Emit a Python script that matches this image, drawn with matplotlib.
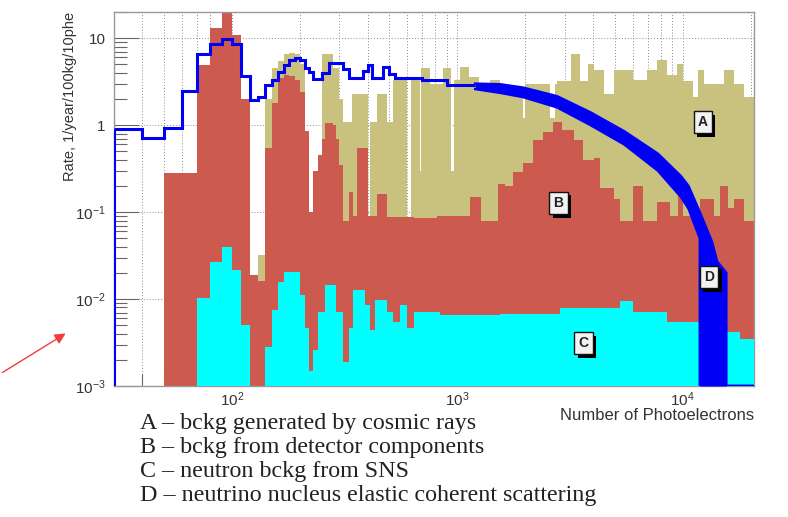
import numpy as np
import matplotlib
matplotlib.use('Agg')
import matplotlib.pyplot as plt
import matplotlib.patheffects as pe
from matplotlib.ticker import LogLocator, NullFormatter

plt.rcParams['font.family'] = ['Liberation Sans', 'DejaVu Sans']

# ---- data (rate per 10 phe bin) ----
# A - cosmic-ray background (khaki)
a_edges = [130, 140, 150, 160, 170, 180, 190, 200, 210, 220, 250, 280, 300, 310, 340,
           400, 410, 440, 490, 520, 600, 620, 680, 690, 760, 860, 940, 970, 1030, 1130,
           1250, 1400, 1550, 1720, 1960, 2000, 2590, 2700, 2780, 3180, 3500, 3790, 4020,
           4460, 4930, 6020, 6940, 7690, 8500, 9460, 10000, 11100, 11640, 12360, 15200,
           16800, 18600, 20700]
a_vals = [0.032, 2.0, 4.5, 5.5, 6.5, 6.8, 6.5, 5.0, 0.8, 0.05, 6.6, 4.6, 2.0, 1.1,
          2.3, 0.02, 1.1, 2.3, 1.1, 3.3, 0.02, 3.3, 0.3, 4.5, 3.0, 4.5, 0.3, 3.3, 4.7,
          3.6, 2.9, 3.3, 2.8, 2.6, 1.2, 3.0, 1.2, 3.0, 3.2, 6.5, 3.2, 5.1, 4.3,
          2.3, 4.3, 3.3, 4.3, 5.6, 3.8, 5.1, 3.2, 2.1, 4.3, 3.0,
          4.3, 3.0, 2.1]

# B - background from detector components (red)
b_edges = [30, 50, 70, 80, 90, 100, 110, 120, 130, 140, 150, 160, 170, 180, 190, 200,
           210, 220, 230, 240, 250, 260, 280, 290, 300, 310, 330, 345, 360, 400, 440,
           490, 640, 810, 1140, 1270, 1510, 1630, 1770, 1960, 2160, 2390, 2670, 2920,
           3280, 3600, 4020, 4300, 4930, 5270, 6020, 6680, 7690, 8800, 9560, 10000,
           11900, 13700, 14600, 15800, 16800, 18600, 20700]
b_vals = [0, 0.28, 4.9, 13, 25, 11, 2.0, 0.019, 0.016, 0.55, 1.8, 3.5, 3.8, 3.7, 3.3,
          2.4, 0.85, 0.1, 0.3, 0.45, 0.7, 1.05, 1.0, 0.7, 0.35, 0.08, 0.17, 0.09, 0.54,
          0.09, 0.16, 0.088, 0.085, 0.09, 0.15, 0.08, 0.21, 0.2, 0.29, 0.37, 0.67, 0.83,
          1.1, 0.87, 0.67, 0.4, 0.42, 0.19, 0.14, 0.08, 0.2, 0.08, 0.13, 0.09, 0.19,
          0.09, 0.14, 0.09, 0.2, 0.11, 0.14, 0.08]

# C - neutron background from SNS (cyan)
c_edges = [70, 80, 90, 100, 110, 120, 140, 150, 160, 170, 200, 210, 220, 230, 240, 260,
           290, 310, 330, 345, 390, 410, 430, 490, 520, 557, 600, 640, 840, 1550, 2860,
           5270, 6020, 8500, 11900, 15600, 18000, 20700]
c_vals = [0.0103, 0.0266, 0.0397, 0.0215, 0.005, 0, 0.0028, 0.0075, 0.0157, 0.0205,
          0.0111, 0.0047, 0.0015, 0.0026, 0.0071, 0.0145, 0.0071, 0.0019, 0.0047, 0.0127,
          0.0085, 0.0044, 0.0097, 0.0071, 0.0054, 0.0085, 0.0047, 0.0071, 0.0066, 0.0068,
          0.0079, 0.0095, 0.0071, 0.0055, 0.0045, 0.0042, 0.0035]

# D - neutrino nucleus coherent scattering (blue): coarse bins at low phe ...
d_edges = [30, 40, 50, 60, 70, 80, 90, 100, 110, 120, 130, 140, 150, 160, 170, 180, 190,
           200, 210, 220, 230, 250, 270, 310, 330, 380, 400, 420, 470, 500, 530, 700,
           900, 1200]
d_vals = [0.9, 0.72, 0.93, 2.5, 6.5, 8.5, 9.8, 8.5, 3.7, 1.95, 2.1, 2.9, 3.3, 4.1, 4.9,
          5.6, 5.9, 5.6, 4.6, 4.1, 3.4, 4.0, 5.2, 4.4, 3.5, 4.2, 4.9, 3.5, 4.7, 3.9, 3.5,
          3.3, 2.9]
# ... and a noisy band (upper / lower envelope) at high phe
d_band_x = [1200, 1550, 1960, 2770, 3900, 5500, 7750, 9800, 10600, 11900, 11900,
            13500, 14200, 15600, 15600, 20700]
d_band_hi = [3.0, 2.95, 2.7, 2.15, 1.4, 0.85, 0.47, 0.26, 0.2, 0.1, 0.1,
             0.045, 0.027, 0.02, 0, 0]
d_band_lo = [2.6, 2.35, 2.1, 1.6, 1.0, 0.6, 0.3, 0.15, 0.11, 0.05, 0,
             0, 0, 0, 0, 0]

legend_lines = ['A \u2013 bckg generated by cosmic rays',
                'B \u2013 bckg from detector components',
                'C \u2013 neutron bckg from SNS',
                'D \u2013 neutrino nucleus elastic coherent scattering']

KHAKI = '#c9c17e'
RED = '#cd5a4e'
CYAN = '#00ffff'
BLUE = '#0000f5'
YMIN, YMAX = 1e-3, 20
FLOOR = 1e-6

fig = plt.figure(figsize=(7.88, 5.17), dpi=100)
ax = fig.add_axes([114 / 788, 131 / 517, 640 / 788, 374 / 517])
ax.set_xscale('log')
ax.set_yscale('log')
ax.set_xlim(30, 20700)
ax.set_ylim(YMIN, YMAX)


def fill_hist(edges, vals, color, z):
    v = np.maximum(np.asarray(vals, float), FLOOR)
    ax.stairs(v, edges, baseline=FLOOR, fill=True, color=color, lw=0, zorder=z)


fill_hist(a_edges, a_vals, KHAKI, 1)
fill_hist(b_edges, b_vals, RED, 2)
fill_hist(c_edges, c_vals, CYAN, 3)

# D histogram
ax.stairs(d_vals, d_edges, baseline=None, color=BLUE, lw=2.2, zorder=4)
ax.vlines(d_edges[0], YMIN, d_vals[0], color=BLUE, lw=2.2, zorder=4)
bhi = np.maximum(np.asarray(d_band_hi, float), YMIN)
blo = np.maximum(np.asarray(d_band_lo, float), YMIN)
ax.fill_between(d_band_x, blo, bhi, color=BLUE, lw=0, zorder=4)
ax.plot(d_band_x, bhi, color=BLUE, lw=1.8, zorder=4)
ax.plot(d_band_x, blo, color=BLUE, lw=1.8, zorder=4)

# grid and axes, ROOT style
ax.set_axisbelow(True)
ax.grid(True, which='major', ls=(0, (1, 2)), color='#8a8a8a', lw=0.7)
ax.grid(True, which='minor', axis='x', ls=(0, (1, 2)), color='#8a8a8a', lw=0.7)

ax.set_yticks([1e-3, 1e-2, 1e-1, 1, 10],
              [r'$\mathregular{10^{-3}}$', r'$\mathregular{10^{-2}}$',
               r'$\mathregular{10^{-1}}$', '1', '10'])
ax.set_xticks([100, 1000, 10000],
              [r'$\mathregular{10^{2}}$', r'$\mathregular{10^{3}}$', r'$\mathregular{10^{4}}$'])
ax.yaxis.set_minor_locator(LogLocator(base=10, subs=np.arange(2, 10), numticks=20))
ax.xaxis.set_minor_locator(LogLocator(base=10, subs=np.arange(2, 10), numticks=20))
ax.yaxis.set_minor_formatter(NullFormatter())
ax.xaxis.set_minor_formatter(NullFormatter())
ax.tick_params(axis='y', which='major', direction='in', length=18, width=0.8, color='#666',
               labelsize=11, labelcolor='#333', pad=6)
ax.tick_params(axis='x', which='major', direction='in', length=18, width=0.8, color='#666',
               labelsize=11, labelcolor='#333', pad=3)
ax.tick_params(which='minor', direction='in', length=9, width=0.8, color='#666')
for s in ax.spines.values():
    s.set_color('#999')
    s.set_linewidth(1.0)

ax.set_ylabel('Rate, 1/year/100kg/10phe', fontsize=10.5, color='#333', loc='top')
ax.yaxis.set_label_coords(-0.058, 1.0)
ax.set_xlabel('Number of Photoelectrons', fontsize=12, color='#333', loc='right')
ax.xaxis.set_label_coords(1.0, -0.06)

# boxed curve labels
for letter, lx, ly in [('A', 12270, 1.08), ('B', 2810, 0.127),
                       ('C', 3630, 0.0031), ('D', 13060, 0.0179)]:
    t = ax.text(lx, ly, letter, ha='center', va='center', fontsize=10, fontweight='bold',
                color='#222', zorder=6,
                bbox=dict(boxstyle='square,pad=0.3', fc='#f2f2f2', ec='#111', lw=1))
    t.get_bbox_patch().set_path_effects(
        [pe.SimplePatchShadow(offset=(2.5, -2.5), shadow_rgbFace='black', alpha=1.0),
         pe.Normal()])

# red arrow pointing at the plot
ax.annotate('', xy=(68 / 788, 1 - 332 / 517), xycoords='figure fraction',
            xytext=(0.0, 1 - 374 / 517), textcoords='figure fraction',
            arrowprops=dict(arrowstyle='-|>', color='#f03c3c', lw=1.0, mutation_scale=16),
            annotation_clip=False)

# legend text under the plot
for i, line in enumerate(legend_lines):
    fig.text(140 / 788, 1 - (423 + 24.3 * i) / 517, line, family='Liberation Serif',
             fontsize=17.3, va='center', ha='left', color='#222')

fig.savefig('out.png', dpi=100)
